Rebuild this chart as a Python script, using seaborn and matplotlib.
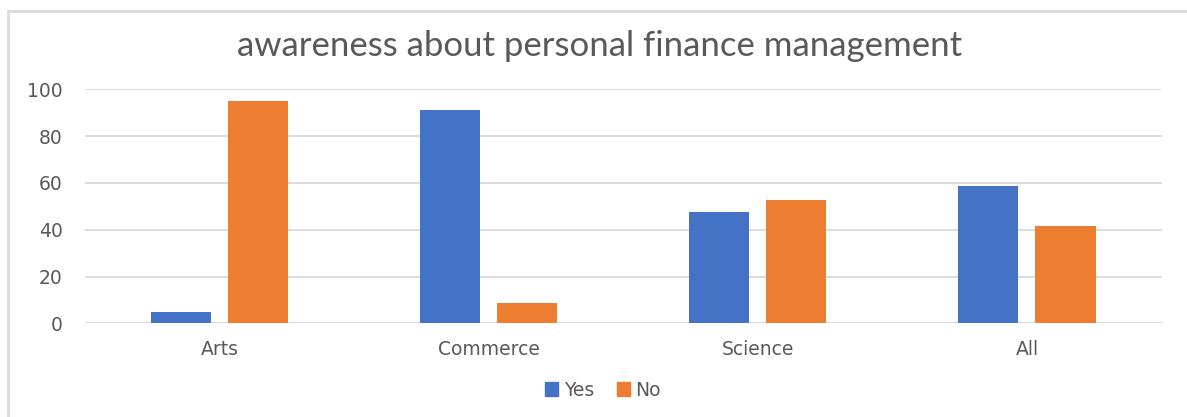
import pandas as pd
import matplotlib.pyplot as plt
import seaborn as sns
from matplotlib.lines import Line2D

# dados do gráfico
categorias = ['Arts', 'Commerce', 'Science', 'All']
respostas = ['Yes', 'No']
valores_yes = [5, 91.3, 47.4, 58.6]
valores_no = [95, 8.7, 52.6, 41.4]

df = pd.DataFrame({
    'categoria': categorias * 2,
    'resposta': ['Yes'] * len(categorias) + ['No'] * len(categorias),
    'valor': valores_yes + valores_no,
})

sns.set_theme(style="white")
plt.rcParams['font.family'] = ['DejaVu Sans']

COR_TEXTO = '#595959'
COR_GRADE = '#D9D9D9'
cores = {'Yes': '#4472C4', 'No': '#ED7D31'}

fig = plt.figure(figsize=(11.87, 4.17), dpi=100)
ax = fig.add_axes([85 / 1187, 1 - 323.3 / 417, (1161.5 - 85) / 1187, (323.3 - 89.3) / 417])

sns.barplot(data=df, x='categoria', y='valor', hue='resposta', order=categorias,
            hue_order=respostas, palette=cores, width=0.573, gap=0.22,
            saturation=1, ax=ax, legend=False, linewidth=0)

ax.set_ylim(0, 100)
ax.set_yticks(range(0, 101, 20))
ax.set_xlim(-0.5, 3.5)
ax.yaxis.grid(True, color=COR_GRADE, linewidth=1.3)
ax.set_axisbelow(True)
for lado in ['top', 'right', 'left', 'bottom']:
    ax.spines[lado].set_visible(False)
ax.set_xlabel('')
ax.set_ylabel('')
ax.tick_params(axis='both', length=0, labelsize=13.5, colors=COR_TEXTO)
ax.tick_params(axis='y', pad=16)
ax.tick_params(axis='x', pad=12)

# linha do eixo zero
ax.axhline(0, color=COR_GRADE, linewidth=1.3, zorder=0.5)

fig.text(600 / 1187, 1 - 46 / 417, 'awareness about personal finance management',
         ha='center', va='center', fontsize=25, color=COR_TEXTO, family=['Lato', 'DejaVu Sans'])

# legenda
handles = [plt.Rectangle((0, 0), 1, 1, color=cores[r]) for r in respostas]
fig.legend(handles, respostas, loc='center', bbox_to_anchor=(603 / 1187, 1 - 390 / 417),
           ncol=2, frameon=False, fontsize=13.5, labelcolor=COR_TEXTO,
           handlelength=0.7, handleheight=0.7, handletextpad=0.3, columnspacing=1.2)

# moldura do gráfico
fig.add_artist(Line2D([8 / 1187, 1], [1 - 11 / 417, 1 - 11 / 417], color=COR_GRADE, linewidth=2))
fig.add_artist(Line2D([8 / 1187, 8 / 1187], [0, 1 - 11 / 417], color=COR_GRADE, linewidth=2))

plt.savefig('out.png', dpi=100)
plt.close()
